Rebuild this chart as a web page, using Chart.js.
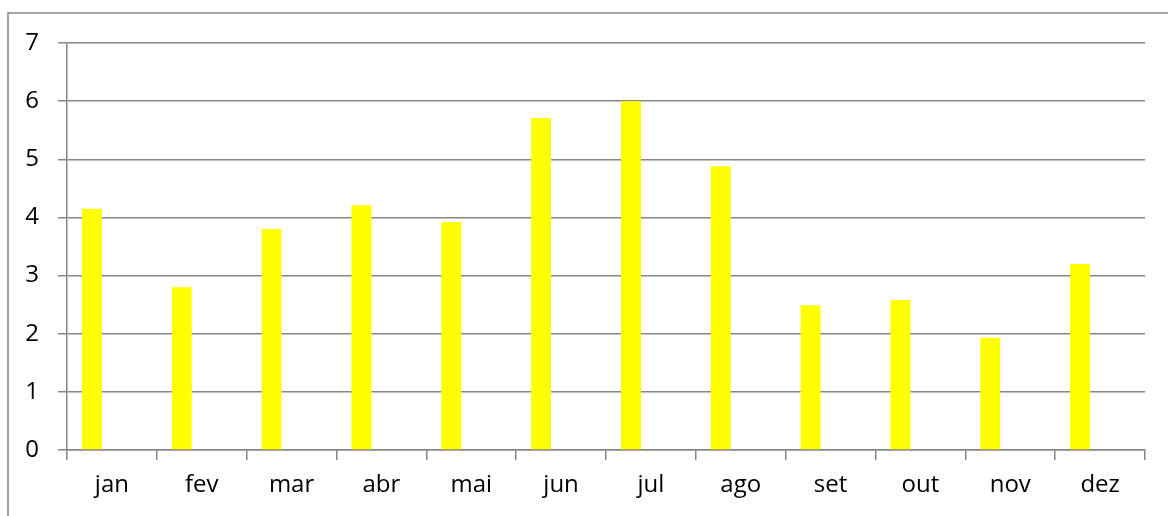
<!DOCTYPE html>
<html>
<head>
<meta charset="utf-8">
<script src="https://cdn.jsdelivr.net/npm/chart.js@4/dist/chart.umd.min.js"></script>
<style>
  html, body { margin: 0; padding: 0; background: #fff; }
  #wrap { position: relative; width: 1168px; height: 516px; }
</style>
</head>
<body>
<div id="wrap"><canvas id="chart" width="1168" height="516"></canvas></div>
<script>
// ================= DATA =================
const months = ["jan", "fev", "mar", "abr", "mai", "jun", "jul", "ago", "set", "out", "nov", "dez"];
const values = [4.15, 2.8, 3.8, 4.21, 3.92, 5.71, 6.0, 4.88, 2.49, 2.58, 1.93, 3.2];
const emptySeries = months.map(() => null);
const yMin = 0;
const yMax = 7;

const gridColor = "#868686";
const labelFont = { family: "'Open Sans', sans-serif", size: 24 };

// ================= FRAME =================
// outer frame: only top and left edge show in the picture
const framePlugin = {
  id: "frame",
  beforeDraw(chart) {
    const c = chart.ctx;
    c.save();
    c.strokeStyle = gridColor;
    c.lineWidth = 1.5;
    c.beginPath();
    c.moveTo(chart.width, 13);
    c.lineTo(8, 13);
    c.lineTo(8, chart.height);
    c.stroke();
    c.restore();
  }
};

// ================= CHART =================
const ctx = document.getElementById("chart").getContext("2d");

new Chart(ctx, {
  type: "bar",
  data: {
    labels: months,
    datasets: [
      { data: values, backgroundColor: "#ffff00" },
      { data: emptySeries },
      { data: emptySeries }
    ]
  },
  options: {
    responsive: false,
    animation: false,
    categoryPercentage: 3 / 4.5,
    barPercentage: 1,
    layout: { padding: { top: 43, right: 23, left: 0, bottom: 0 } },
    plugins: {
      legend: { display: false },
      tooltip: { enabled: false }
    },
    scales: {
      x: {
        grid: {
          display: true,
          drawOnChartArea: false,
          drawTicks: true,
          tickLength: 10,
          color: gridColor,
          lineWidth: 1.5
        },
        border: { color: gridColor, width: 1.5 },
        ticks: { color: "#000", font: labelFont, padding: 11, maxRotation: 0 },
        afterFit(scale) { scale.height = 66; }
      },
      y: {
        min: yMin,
        max: yMax,
        grid: {
          color: gridColor,
          lineWidth: 1.5,
          tickLength: 9
        },
        border: { color: gridColor, width: 1.5 },
        ticks: { stepSize: 1, color: "#000", font: labelFont, padding: 19 },
        afterFit(scale) { scale.width = 67; }
      }
    }
  },
  plugins: [framePlugin]
});
</script>
</body>
</html>
